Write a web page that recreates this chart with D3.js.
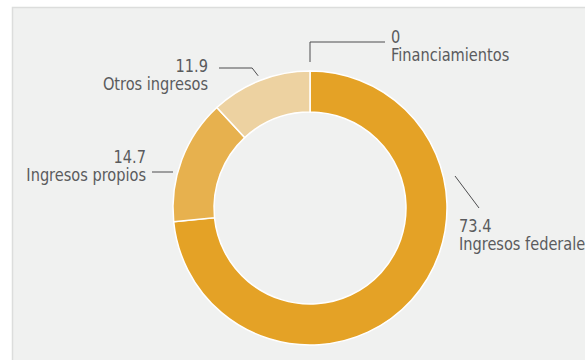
<!DOCTYPE html>
<html>
<head>
<meta charset="utf-8">
<script src="https://cdn.jsdelivr.net/npm/d3@7"></script>
<style>
  html, body { margin: 0; padding: 0; background: #ffffff; }
  svg { display: block; }
  .lbl { font-family: "Liberation Sans Narrow", "DejaVu Sans Condensed", "Roboto Condensed", sans-serif; font-size: 18px; fill: #5a5b5d; }
</style>
</head>
<body>
<svg id="chart" width="585" height="360"></svg>
<script>
// Revenue composition (percent of total)
const categories = ["Ingresos federales", "Ingresos propios", "Otros ingresos", "Financiamientos"];
const values = [73.4, 14.7, 11.9, 0];
const valueLabels = ["73.4", "14.7", "11.9", "0"];
const colors = ["#e4a226", "#e7b14e", "#edd2a1", "#e4a226"];

const W = 585, H = 360;
const cx = 310, cy = 208;
const outerR = 137, innerR = 96;

const svg = d3.select("#chart");

// Panel background with a light frame on the top and left edges
svg.append("rect").attr("x", 12).attr("y", 7).attr("width", W).attr("height", H)
  .attr("fill", "#f0f1f0");
svg.append("path").attr("d", `M12.5,${H} V7.5 H${W}`)
  .attr("fill", "none").attr("stroke", "#dcdddc").attr("stroke-width", 1.5);

const data = categories.map((c, i) => ({ name: c, value: values[i], label: valueLabels[i], color: colors[i] }));

const pie = d3.pie().sort(null).value(d => d.value);
const arcs = pie(data);
const arc = d3.arc().innerRadius(innerR).outerRadius(outerR);

const g = svg.append("g").attr("transform", `translate(${cx},${cy})`);
g.selectAll("path.slice").data(arcs.filter(a => a.data.value > 0)).join("path")
  .attr("class", "slice")
  .attr("d", arc)
  .attr("fill", d => d.data.color)
  .attr("stroke", "#ffffff")
  .attr("stroke-width", 1.5);

// Point on a circle of radius r at pie angle a (clockwise from 12 o'clock)
const polar = (a, r) => [Math.sin(a) * r, -Math.cos(a) * r];
const mid = a => (a.startAngle + a.endAngle) / 2;

// Leader lines and labels, relative to the donut centre
const layout = {
  "Ingresos federales": { pts: () => [[145, -32], [169, 0]], tx: 149, ty: 24, anchor: "start" },
  "Ingresos propios":   { pts: a => [[-158, -36], [-137, -36]], tx: -164, ty: -45, anchor: "end" },
  "Otros ingresos":     { pts: a => { const p = polar(mid(a), 142); return [[-91, -140], [p[0] - 6, -140], p]; }, tx: -102, ty: -136, anchor: "end" },
  "Financiamientos":    { pts: a => { const p = polar(a.endAngle, 146); return [p, [p[0], -166], [75, -166]]; }, tx: 81, ty: -165, anchor: "start" }
};

// Labels are drawn slightly compressed horizontally for a condensed look
const squeeze = 0.9;
const line = d3.line();
arcs.forEach(a => {
  const L = layout[a.data.name];
  g.append("path").attr("d", line(L.pts(a)))
    .attr("fill", "none").attr("stroke", "#4d4d4f").attr("stroke-width", 1);
  const t = g.append("g").attr("transform", `translate(${L.tx},${L.ty}) scale(${squeeze},1)`)
    .append("text").attr("class", "lbl")
    .attr("text-anchor", L.anchor);
  t.append("tspan").attr("x", 0).attr("dy", 0).text(a.data.label);
  t.append("tspan").attr("x", 0).attr("dy", 18.5).text(a.data.name);
});
</script>
</body>
</html>
